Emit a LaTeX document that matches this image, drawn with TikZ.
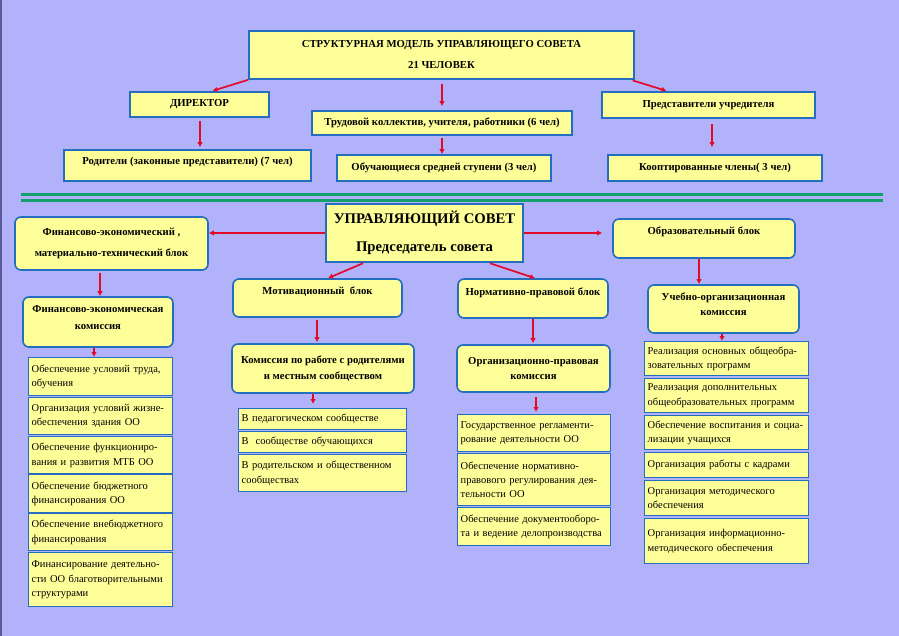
\documentclass[tikz,border=0pt]{standalone}
\usepackage{fontspec}
\setmainfont{Liberation Serif}
\usetikzlibrary{arrows.meta}
\definecolor{skyfill}{RGB}{178,178,250}
\definecolor{padfill}{RGB}{255,255,153}
\definecolor{rimblue}{RGB}{35,110,190}
\definecolor{arrowred}{RGB}{225,10,40}
\definecolor{railgreen}{RGB}{20,160,110}
\definecolor{edgegray}{RGB}{90,90,150}
\begin{document}
\begin{tikzpicture}[x=1pt, y=-1pt, font=\fontsize{10.5}{14.4}\selectfont,
  box/.style={draw=rimblue, fill=padfill, line width=1.6pt, inner sep=2pt, align=center, font=\fontsize{10.7}{12.5}\selectfont\bfseries},
  rbox/.style={box, rounded corners=6pt},
  item/.style={draw=rimblue, fill=padfill, line width=1.4pt, anchor=north west, align=left, inner xsep=3pt, inner ysep=0pt},
  lift/.style 2 args={text height=#1, text depth=#2},
  arr/.style={arrowred, line width=1.7pt, -{Latex[length=5pt, width=5.5pt]}},
  track/.style={railgreen, line width=2.6pt}]
  \fill[skyfill] (0,0) rectangle (899,636);
  \useasboundingbox (0,0) rectangle (899,636);
  \draw[edgegray, line width=2pt] (1,0) -- (1,636);

  \node[box, minimum width=385, minimum height=48] (model) at (441.5,55) {СТРУКТУРНАЯ МОДЕЛЬ УПРАВЛЯЮЩЕГО СОВЕТА\\[8.5pt]21 ЧЕЛОВЕК};
  \node[box, minimum width=139, minimum height=25] (dir) at (199.5,104.5) {ДИРЕКТОР};
  \node[box, minimum width=260, minimum height=24] (staff) at (442,123) {Трудовой коллектив, учителя, работники (6 чел)};
  \node[box, minimum width=213, minimum height=26] (found) at (708.5,105) {Представители учредителя};
  \node[box, lift={6.5pt}{7.5pt}, minimum width=247, minimum height=31] (par) at (187.5,165.5) {Родители (законные представители) (7 чел)};
  \node[box, minimum width=214, minimum height=26] (pup) at (444,168) {Обучающиеся средней ступени (3 чел)};
  \node[box, minimum width=214, minimum height=26] (coopt) at (715,168) {Кооптированные члены( 3 чел)};

  \draw[track] (21,194.5) -- (883,194.5);
  \draw[track] (21,200.5) -- (883,200.5);

  \node[box, line width=2.5pt, minimum width=197, minimum height=58] (council) at (424.5,233) {{\fontsize{14.7}{16}\selectfont УПРАВЛЯЮЩИЙ СОВЕТ}\\[14.5pt]{\fontsize{14.7}{16}\selectfont Председатель совета}};
  \node[rbox, minimum width=193, minimum height=53] (fin) at (111.5,243.5) {Финансово-экономический ,\\[8.5pt]материально-технический блок};
  \node[rbox, lift={6.5pt}{13.5pt}, minimum width=169, minimum height=38] (motiv) at (317.5,298) {Мотивационный\ \ блок};
  \node[rbox, lift={6.5pt}{13.5pt}, minimum width=150, minimum height=39] (norm) at (533,298.5) {Нормативно-правовой блок};
  \node[rbox, lift={6.5pt}{13.5pt}, minimum width=182, minimum height=39] (edu) at (704,238.5) {Образовательный блок};
  \node[rbox, lift={24.5pt}{9.5pt}, minimum width=150, minimum height=50] (fincom) at (98,322) {Финансово-экономическая\\[4.5pt]комиссия};
  \node[rbox, minimum width=182, minimum height=49] (parcom) at (323,368.5) {Комиссия по работе с родителями\\[3.5pt]и местным сообществом};
  \node[rbox, minimum width=153, minimum height=47] (orgcom) at (533.5,368.5) {Организационно-правовая\\[2.5pt]комиссия};
  \node[rbox, lift={22pt}{9pt}, minimum width=151, minimum height=48] (studcom) at (723.5,309) {Учебно-организационная\\[2pt]комиссия};

  \foreach \ya/\yb/\txt [count=\i] in {
      357/395/{Обеспечение условий труда,\\обучения},
      397/434/{Организация условий жизне-\\обеспечения здания ОО},
      436/473/{Обеспечение функциониро-\\вания и развития МТБ ОО},
      474/512/{Обеспечение бюджетного\\финансирования ОО},
      513/550/{Обеспечение внебюджетного\\финансирования},
      552/606/{Финансирование деятельно-\\сти ОО благотворительными\\структурами}}
    \node[item, text width=138, minimum height=\yb-\ya] (fl\i) at (28,\ya) {\txt};
  \foreach \ya/\yb/\txt [count=\i] in {
      408/429/{В педагогическом сообществе},
      431/452/{В\ \ сообществе обучающихся},
      454/491/{В родительском и общественном\\сообществах}}
    \node[item, text width=162, minimum height=\yb-\ya] (ml\i) at (238,\ya) {\txt};
  \foreach \ya/\yb/\txt [count=\i] in {
      414/451/{Государственное регламенти-\\рование деятельности ОО},
      453/505/{Обеспечение нормативно-\\правового регулирования дея-\\тельности ОО},
      507/545/{Обеспечение документооборо-\\та и ведение делопроизводства}}
    \node[item, text width=147, minimum height=\yb-\ya] (nl\i) at (457,\ya) {\txt};
  \foreach \ya/\yb/\txt [count=\i] in {
      341/375/{Реализация основных общеобра-\\зовательных программ},
      378/412/{Реализация дополнительных\\общеобразовательных программ},
      415/449/{Обеспечение воспитания и социа-\\лизации учащихся},
      452/477/{Организация работы с кадрами},
      480/515/{Организация методического\\обеспечения},
      518/563/{Организация информационно-\\методического обеспечения}}
    \node[item, text width=158, minimum height=\yb-\ya] (rl\i) at (644,\ya) {\txt};

  \draw[arr, shorten >=1pt] (model.south west) -- ([xshift=12]dir.north);
  \draw[arr, shorten <=4pt, shorten >=4pt] ([xshift=0.5]model.south) -- ([xshift=0.5]model.south |- staff.north);
  \draw[arr, shorten <=2pt] (staff.south) -- (staff.south |- pup.north);
  \draw[arr, shorten <=2pt, shorten >=1pt] ([xshift=-4]model.south east) -- ([xshift=-41]found.north);
  \draw[arr, shorten <=3pt, shorten >=2pt] ([xshift=0.5]dir.south) -- ([xshift=0.5]dir.south |- par.north);
  \draw[arr, shorten <=5pt, shorten >=7pt] ([xshift=3.5]found.south) -- ([xshift=3.5]found.south |- coopt.north);
  \draw[arr] (council.west) -- (council.west -| fin.east);
  \draw[arr, shorten >=10pt] (council.east) -- (council.east -| edu.west);
  \draw[arr] ([xshift=-61.5]council.south) -- ([xshift=10.5]motiv.north);
  \draw[arr] ([xshift=65.5]council.south) -- ([xshift=2]norm.north);
  \draw[arr, shorten <=2pt] ([xshift=-11.5]fin.south) -- ([xshift=2]fincom.north);
  \draw[arr] ([xshift=-4]fincom.south) -- ([xshift=-4]fincom.south |- fl1.north);
  \draw[arr, shorten <=2pt, shorten >=1pt] ([xshift=-0.5]motiv.south) -- ([xshift=-0.5]motiv.south |- parcom.north);
  \draw[arr, shorten >=4pt] ([xshift=-10]parcom.south) -- ([xshift=-10]parcom.south |- ml1.north);
  \draw[arr, shorten >=1pt] (norm.south) -- (norm.south |- orgcom.north);
  \draw[arr, shorten <=4pt, shorten >=2pt] ([xshift=2.5]orgcom.south) -- ([xshift=2.5]orgcom.south |- nl1.north);
  \draw[arr] ([xshift=-5]edu.south) -- ([xshift=-5]edu.south |- studcom.north);
  \draw[arr] ([xshift=-1.5]studcom.south) -- ([xshift=-1.5]studcom.south |- rl1.north);
\end{tikzpicture}
\end{document}
